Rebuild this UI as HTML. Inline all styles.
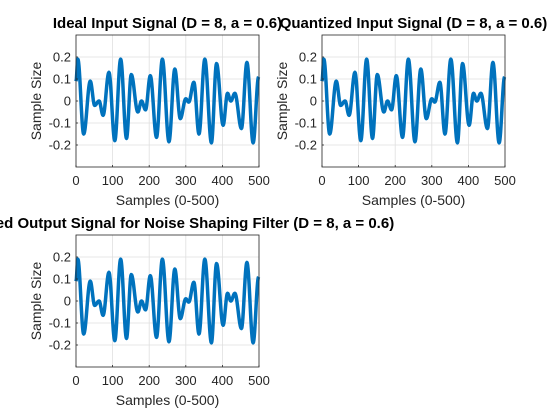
<!DOCTYPE html>
<html><head><meta charset="utf-8"><style>
html,body{margin:0;padding:0;background:#fff;}
svg{display:block;font-family:"Liberation Sans",Arial,sans-serif;}
</style></head><body>
<svg id="fig" width="560" height="420" viewBox="0 0 560 420" xmlns="http://www.w3.org/2000/svg"></svg>
<script>
// Extrema of the signal (sample index, value)
const sampleIdx = [0,5,21,39,51,63,74,90,106,122,138,151,169,179,190,203,220,236,254,270,285,300,308,322,336,352,370,384,402,414,423,434,452,467,484,499];
const sampleVal = [0.09,0.19,-0.15,0.09,-0.02,0.0,-0.065,0.13,-0.18,0.19,-0.17,0.12,-0.05,0.0,-0.04,0.115,-0.165,0.19,-0.185,0.145,-0.08,0.01,-0.005,0.085,-0.15,0.19,-0.19,0.17,-0.11,0.035,0.0,0.035,-0.125,0.175,-0.19,0.11];
const xTicks = [0,100,200,300,400,500];
const yTicks = [-0.2,-0.1,0,0.1,0.2];
const yTickLabels = ["-0.2","-0.1","0","0.1","0.2"];
const titles = ["Ideal Input Signal (D = 8, a = 0.6)","Quantized Input Signal (D = 8, a = 0.6)","Quantized Output Signal for Noise Shaping Filter (D = 8, a = 0.6)"];

const NS="http://www.w3.org/2000/svg";
const svg=document.getElementById('fig');
const panels=[{x0:76,x1:259,y0:35,y1:167},{x0:322,x1:505,y0:35,y1:167},{x0:76,x1:259,y0:235,y1:367}];
function mk(tag,attrs,parent){const e=document.createElementNS(NS,tag);for(const k in attrs)e.setAttribute(k,attrs[k]);(parent||svg).appendChild(e);return e;}

panels.forEach((p,i)=>{
  const g=mk('g',{});
  
  
  const sx=v=>p.x0+(v-0)/500*(p.x1-p.x0);
  const sy=v=>p.y1-(v+0.3)/0.6*(p.y1-p.y0);
  xTicks.forEach(t=>{const l=mk('line',{x1:sx(t),x2:sx(t),y1:p.y0,y2:p.y1,stroke:'#dfdfdf','stroke-width':0.8},g);
    });
  yTicks.forEach(t=>{const l=mk('line',{x1:p.x0,x2:p.x1,y1:sy(t),y2:sy(t),stroke:'#dfdfdf','stroke-width':0.8},g);
    });
  let d='';
  for(let k=0;k<sampleIdx.length-1;k++){
    const a=sampleIdx[k],b=sampleIdx[k+1],va=sampleVal[k],vb=sampleVal[k+1];
    for(let s=a;s<b;s++){const t=(s-a)/(b-a);const v=va+(vb-va)*(1-Math.cos(Math.PI*t))/2;d+=(d?'L':'M')+sx(s).toFixed(2)+','+sy(v).toFixed(2);}
  }
  d+='L'+sx(sampleIdx[sampleIdx.length-1]).toFixed(2)+','+sy(sampleVal[sampleVal.length-1]).toFixed(2);
  const path=mk('path',{d:d,fill:'none',stroke:'#0072BD','stroke-width':3.5,'stroke-linejoin':'round'},g);
  
  
  const r=mk('rect',{x:p.x0,y:p.y0,width:p.x1-p.x0,height:p.y1-p.y0,fill:'none',stroke:'#262626','stroke-width':0.8},g);
  
  
  xTicks.forEach(t=>{
    mk('line',{x1:sx(t),x2:sx(t),y1:p.y1,y2:p.y1-2,stroke:'#262626','stroke-width':0.8},g);
    const tx=mk('text',{x:sx(t),y:p.y1+18,'text-anchor':'middle','font-size':13,fill:'#262626'},g);
    tx.textContent=t;
    
    
  });
  yTicks.forEach((t,j)=>{
    mk('line',{x1:p.x0,x2:p.x0+2,y1:sy(t),y2:sy(t),stroke:'#262626','stroke-width':0.8},g);
    const tx=mk('text',{x:p.x0-5,y:sy(t)+4.5,'text-anchor':'end','font-size':13,fill:'#262626'},g);
    tx.textContent=yTickLabels[j];
    
    
  });
  const xl=mk('text',{x:(p.x0+p.x1)/2,y:p.y1+38,'text-anchor':'middle','font-size':14,fill:'#262626'},g);
  xl.textContent='Samples (0-500)';
  
  
  const cy=(p.y0+p.y1)/2, cx=p.x0-35;
  const yl=mk('text',{x:cx,y:cy,'text-anchor':'middle','font-size':14,fill:'#262626',transform:'rotate(-90 '+cx+' '+cy+')'},g);
  yl.textContent='Sample Size';
  
  
  const tt=mk('text',{x:(p.x0+p.x1)/2,y:p.y0-7,'text-anchor':'middle','font-size':15,'font-weight':'bold',fill:'#000'},g);
  tt.textContent=titles[i];
  
  
});
</script>
</body></html>
